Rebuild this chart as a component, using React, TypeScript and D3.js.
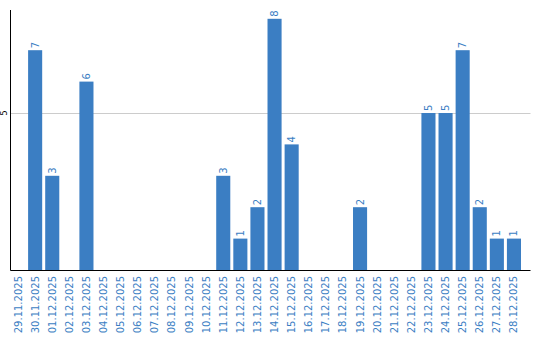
import React from "react";
import * as d3 from "d3";

const dates = [
  "29.11.2025", "30.11.2025", "01.12.2025", "02.12.2025", "03.12.2025",
  "04.12.2025", "05.12.2025", "06.12.2025", "07.12.2025", "08.12.2025",
  "09.12.2025", "10.12.2025", "11.12.2025", "12.12.2025", "13.12.2025",
  "14.12.2025", "15.12.2025", "16.12.2025", "17.12.2025", "18.12.2025",
  "19.12.2025", "20.12.2025", "21.12.2025", "22.12.2025", "23.12.2025",
  "24.12.2025", "25.12.2025", "26.12.2025", "27.12.2025", "28.12.2025",
];
const counts = [0, 7, 3, 0, 6, 0, 0, 0, 0, 0, 0, 0, 3, 1, 2, 8, 4, 0, 0, 0, 2, 0, 0, 0, 5, 5, 7, 2, 1, 1];
const yTicks = [5];

const W = 540;
const H = 340;
const BLUE = "#3b7ec3";
const FONT = "DejaVu Sans, Verdana, sans-serif";

export default function App() {
  const x = d3.scaleBand<string>().domain(dates).range([11, 521]).paddingInner(3 / 17).paddingOuter(0);
  const y = d3.scaleLinear().domain([0, 260 / 31.4]).range([270, 10]);
  const axisLeft = 10.5;
  const axisRight = 530.5;

  return (
    <svg width={W} height={H} style={{ position: "absolute", left: 0, top: 0, background: "#fff" }}>
      {yTicks.map((t) => (
        <g key={t}>
          <line x1={axisLeft} x2={axisRight} y1={Math.round(y(t)) + 0.5} y2={Math.round(y(t)) + 0.5} stroke="#cccccc" strokeWidth={1} />
          <text
            transform={`translate(4,${y(t)}) rotate(-90)`}
            textAnchor="middle"
            dy="0.35em"
            fontFamily={FONT}
            fontSize={8}
            fill="#000"
          >
            {t}
          </text>
        </g>
      ))}
      {dates.map((d, i) => {
        const v = counts[i];
        const bx = x(d)!;
        const cx = bx + x.bandwidth() / 2;
        return (
          <g key={d}>
            {v > 0 && (
              <>
                <rect x={bx} y={y(v)} width={x.bandwidth()} height={y(0) - y(v)} fill={BLUE} />
                <text
                  transform={`translate(${cx},${y(v) - 2}) rotate(-90)`}
                  textAnchor="start"
                  dy="0.35em"
                  fontFamily={FONT}
                  fontSize={10}
                  fill={BLUE}
                >
                  {v}
                </text>
              </>
            )}
            <text
              transform={`translate(${cx},276) rotate(-90)`}
              textAnchor="end"
              dy="0.35em"
              fontFamily={FONT}
              fontSize={10}
              fill={BLUE}
            >
              {d}
            </text>
          </g>
        );
      })}
      <line x1={axisLeft} x2={axisLeft} y1={10} y2={270.5} stroke="#000" strokeWidth={1} />
      <line x1={axisLeft} x2={axisRight} y1={270.5} y2={270.5} stroke="#000" strokeWidth={1} />
    </svg>
  );
}
